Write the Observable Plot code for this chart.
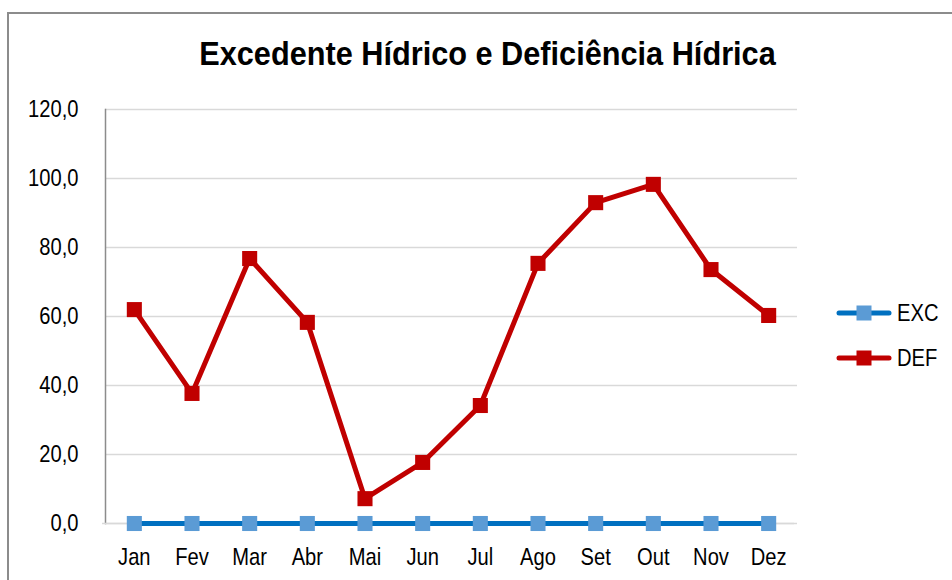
<!DOCTYPE html>
<html>
<head>
<meta charset="utf-8">
<script src="https://cdn.jsdelivr.net/npm/d3@7"></script>
<script src="https://cdn.jsdelivr.net/npm/@observablehq/plot@0.6"></script>
<style>
  html, body { margin: 0; padding: 0; background: #fff; }
  body { width: 952px; height: 580px; overflow: hidden; position: relative;
         font-family: "Liberation Sans", Arial, sans-serif; }
  #frame { position: absolute; left: 7px; top: 12px; width: 1000px; height: 700px;
           border: 2px solid #8c8c8c; box-sizing: border-box; }
  #title { position: absolute; left: 0; top: 37px; width: 975px; text-align: center;
           font-weight: bold; font-size: 33px; line-height: 33px; color: #000;
           transform: scaleX(0.93); transform-origin: 487.5px 0; white-space: nowrap; }
  #chart { position: absolute; left: 0; top: 0; }
  #legend { position: absolute; left: 836px; top: 290px; font-size: 24px; color: #000; }
  .li { height: 45px; display: flex; align-items: center; position: relative; }
  .li svg { margin-right: 5px; }
  .li span { display: inline-block; transform: scaleX(0.84); transform-origin: 0 50%; }
</style>
</head>
<body>
<div id="frame"></div>
<div id="chart"></div>
<div id="title">Excedente Hídrico e Deficiência Hídrica</div>
<div id="legend"></div>
<script>
const months = ["Jan","Fev","Mar","Abr","Mai","Jun","Jul","Ago","Set","Out","Nov","Dez"];
const excValues = [0,0,0,0,0,0,0,0,0,0,0,0];
const defValues = [62.0,37.7,76.8,58.3,7.2,17.7,34.2,75.4,93.0,98.3,73.6,60.3];
const yTicks = [0,20,40,60,80,100,120];
const seriesNames = ["EXC","DEF"];
const lineColors = {EXC: "#0070C0", DEF: "#C00000"};
const markerColors = {EXC: "#5B9BD5", DEF: "#C00000"};

const data = [
  ...months.map((m,i) => ({month: m, value: excValues[i], series: "EXC"})),
  ...months.map((m,i) => ({month: m, value: defValues[i], series: "DEF"}))
];
const fmt = d => d.toFixed(1).replace(".", ",");

const chart = Plot.plot({
  width: 952,
  height: 580,
  marginLeft: 105,
  marginRight: 155,
  marginTop: 109,
  marginBottom: 57,
  style: {fontFamily: '"Liberation Sans", Arial, sans-serif', fontSize: "24px", color: "#000", background: "transparent"},
  x: {type: "point", domain: months, padding: 0.5, round: false, label: null, tickSize: 0, tickPadding: 24},
  y: {domain: [0,120], ticks: yTicks, tickFormat: fmt, label: null, tickSize: 0, tickPadding: 27},
  marks: [
    Plot.gridY(yTicks, {stroke: "#d9d9d9", strokeOpacity: 1, strokeWidth: 1.5}),
    Plot.frame({anchor: "left", stroke: "#8c8c8c", strokeWidth: 1.5}),
    Plot.ruleY([0], {stroke: "#d9d9d9", strokeWidth: 1.5, dx: -3}),
    Plot.line(data, {x: "month", y: "value", z: "series", stroke: d => lineColors[d.series], strokeWidth: 5, strokeLinejoin: "round"}),
    Plot.dot(data, {x: "month", y: "value", symbol: "square", r: 8.5, fill: d => markerColors[d.series], stroke: null})
  ]
});
document.getElementById("chart").appendChild(chart);

// condense tick labels horizontally (narrow font look), scaling about each label's anchor
chart.querySelectorAll('g[aria-label$="tick label"] text').forEach(t => {
  const b = t.getBBox();
  const anchor = getComputedStyle(t).textAnchor;
  const ax = anchor === "end" ? b.x + b.width : anchor === "middle" ? b.x + b.width / 2 : b.x;
  const tr = t.getAttribute("transform") || "";
  t.setAttribute("transform", `${tr} translate(${ax},0) scale(0.84,1) translate(${-ax},0)`);
});

const legend = document.getElementById("legend");
for (const s of seriesNames) {
  const row = document.createElement("div");
  row.className = "li";
  row.innerHTML = `<svg width="56" height="20"><line x1="3" y1="10" x2="53" y2="10" stroke="${lineColors[s]}" stroke-width="5" stroke-linecap="round"/><rect x="20.5" y="2.5" width="15" height="15" fill="${markerColors[s]}"/></svg><span>${s}</span>`;
  legend.appendChild(row);
}
</script>
</body>
</html>
